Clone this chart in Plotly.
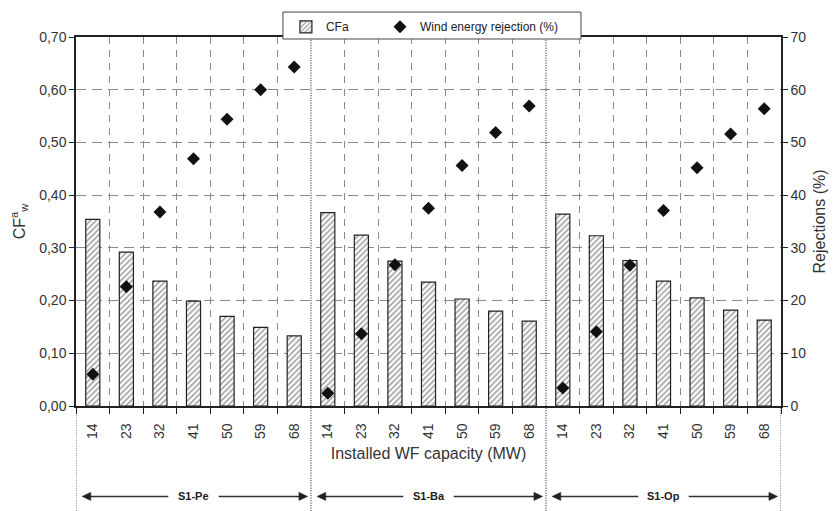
import plotly.graph_objects as go

# Installed wind-farm capacity (MW) for each scenario group
capacities = [14, 23, 32, 41, 50, 59, 68]
groups = ["S1-Pe", "S1-Ba", "S1-Op"]

# Annual capacity factor of the wind farm
cfa_pe = [0.354, 0.292, 0.237, 0.199, 0.170, 0.149, 0.133]
cfa_ba = [0.367, 0.324, 0.275, 0.235, 0.203, 0.180, 0.161]
cfa_op = [0.364, 0.323, 0.276, 0.237, 0.205, 0.182, 0.163]

# Share of wind energy rejected (%)
rej_pe = [6.0, 22.6, 36.8, 46.9, 54.4, 60.0, 64.3]
rej_ba = [2.4, 13.7, 26.8, 37.5, 45.6, 51.9, 56.9]
rej_op = [3.4, 14.1, 26.7, 37.1, 45.2, 51.6, 56.4]

cfa = cfa_pe + cfa_ba + cfa_op
rej = rej_pe + rej_ba + rej_op
tick_labels = [str(c) for c in capacities] * len(groups)
n_per = len(capacities)
x = list(range(len(tick_labels)))

FONT = "Liberation Sans, Arial, sans-serif"
INK = "#222222"

fig = go.Figure()
fig.add_trace(go.Bar(
    x=x, y=cfa, name="CFa", width=0.42,
    marker=dict(color="white", line=dict(color=INK, width=1.2),
                pattern=dict(shape="/", fgcolor="#444444", bgcolor="white",
                             size=4, solidity=0.4)),
    yaxis="y", legend="legend",
))
fig.add_trace(go.Scatter(
    x=x, y=rej, name="Wind energy rejection (%)", mode="markers",
    marker=dict(symbol="diamond", size=10, color="#111111"),
    yaxis="y2", legend="legend2",
))

# Gridlines at category boundaries, except where the scenario groups meet
boundaries = [i - 0.5 for i in range(len(x) + 1)]
group_edges = [g * n_per - 0.5 for g in range(1, len(groups))]
grid_vals = [b for b in boundaries if b not in group_edges]

legend_common = dict(orientation="h", y=1.067, xanchor="left", yanchor="top",
                     bgcolor="rgba(0,0,0,0)", borderwidth=0,
                     font=dict(size=12, color=INK), itemwidth=30, itemclick=False)

fig.update_layout(
    width=838, height=511,
    margin=dict(l=76, r=50, t=36, b=105),
    paper_bgcolor="white", plot_bgcolor="white",
    separators=", ",
    font=dict(family=FONT, size=14, color=INK),
    bargap=0.5,
    showlegend=True,
    legend=dict(x=(288 - 76) / 712, **legend_common),
    legend2=dict(x=(383 - 76) / 712, **legend_common),
    xaxis=dict(
        range=[-0.5, len(x) - 0.5],
        tickmode="array", tickvals=x, ticktext=tick_labels, tickangle=-90,
        ticks="outside", ticklen=10, tickcolor="rgba(0,0,0,0)", showgrid=False,
        showline=True, linecolor=INK, linewidth=1.5, mirror=True,
        tickfont=dict(size=14, color="#333333"),
        minor=dict(tickmode="array", tickvals=grid_vals, ticks="outside", ticklen=6,
                   tickcolor=INK, showgrid=True, gridcolor="#8a8a8a", gridwidth=1,
                   griddash="7px,6px"),
        title=dict(text="Installed WF capacity (MW)", standoff=10,
                   font=dict(size=16, color="#333333")),
        zeroline=False,
    ),
    yaxis=dict(
        range=[0, 0.70], dtick=0.10, tickformat=".2f",
        showline=True, linecolor=INK, linewidth=1.5,
        ticks="outside", ticklen=5, tickcolor=INK,
        showgrid=True, gridcolor="#8a8a8a", gridwidth=1.2, griddash="10px,6px",
        zeroline=False,
        tickfont=dict(size=14, color="#333333"),
        title=dict(text="CF<sup>a</sup><sub>w</sub>", standoff=10,
                   font=dict(size=16, color="#333333")),
    ),
    yaxis2=dict(
        range=[0, 70], dtick=10, overlaying="y", side="right",
        showline=True, linecolor=INK, linewidth=1.5,
        ticks="outside", ticklen=5, tickcolor=INK,
        showgrid=False, zeroline=False,
        tickfont=dict(size=14, color="#333333"),
        title=dict(text="Rejections (%)", standoff=8,
                   font=dict(size=16, color="#333333")),
    ),
)

shapes = []
# Frame shared by both legend entries
shapes.append(dict(type="rect", xref="paper", yref="paper", layer="above",
                   x0=(285 - 76) / 712, x1=(586 - 76) / 712,
                   y0=(406 - 38) / 370, y1=(406 - 11) / 370,
                   fillcolor="white", line=dict(color="#444444", width=1)))

# Dotted separators between groups and at the outer edges below the axis
dotted = dict(color="#111111", width=1, dash="1px,1.5px")
for e in group_edges:
    shapes.append(dict(type="line", xref="x", yref="paper", x0=e, x1=e, y0=-0.285, y1=0.994,
                       line=dotted))
for e in (-0.5, len(x) - 0.5):
    shapes.append(dict(type="line", xref="x", yref="paper", x0=e, x1=e, y0=-0.285, y1=0,
                       line=dotted))

# Double-headed arrows with the group names underneath the axis
arrow_y = -0.245
head_len = 0.26      # arrowhead length in category units
head_half = 0.011    # arrowhead half-height in paper units
gap = 0.75
annotations = []
for g, name in enumerate(groups):
    start = g * n_per - 0.5 + 0.18
    end = g * n_per - 0.5 + n_per - 0.1
    mid = g * n_per + (n_per - 1) / 2
    for tip, inner, sgn in ((start, mid - gap, 1), (end, mid + gap, -1)):
        shapes.append(dict(type="line", xref="x", yref="paper", x0=tip + sgn * head_len * 0.8,
                           x1=inner, y0=arrow_y, y1=arrow_y,
                           line=dict(color="#333333", width=1.5)))
        base = tip + sgn * head_len
        shapes.append(dict(type="path", xref="x", yref="paper",
                           path=f"M {tip} {arrow_y} L {base} {arrow_y + head_half} "
                                f"L {base} {arrow_y - head_half} Z",
                           fillcolor="#222222", line=dict(color="#222222", width=0.5)))
    annotations.append(dict(x=mid, y=arrow_y, xref="x", yref="paper", text=f"<b>{name}</b>",
                            showarrow=False, font=dict(size=11, color=INK),
                            xanchor="center", yanchor="middle"))
fig.update_layout(shapes=shapes, annotations=annotations)

fig.write_html("out.html")
